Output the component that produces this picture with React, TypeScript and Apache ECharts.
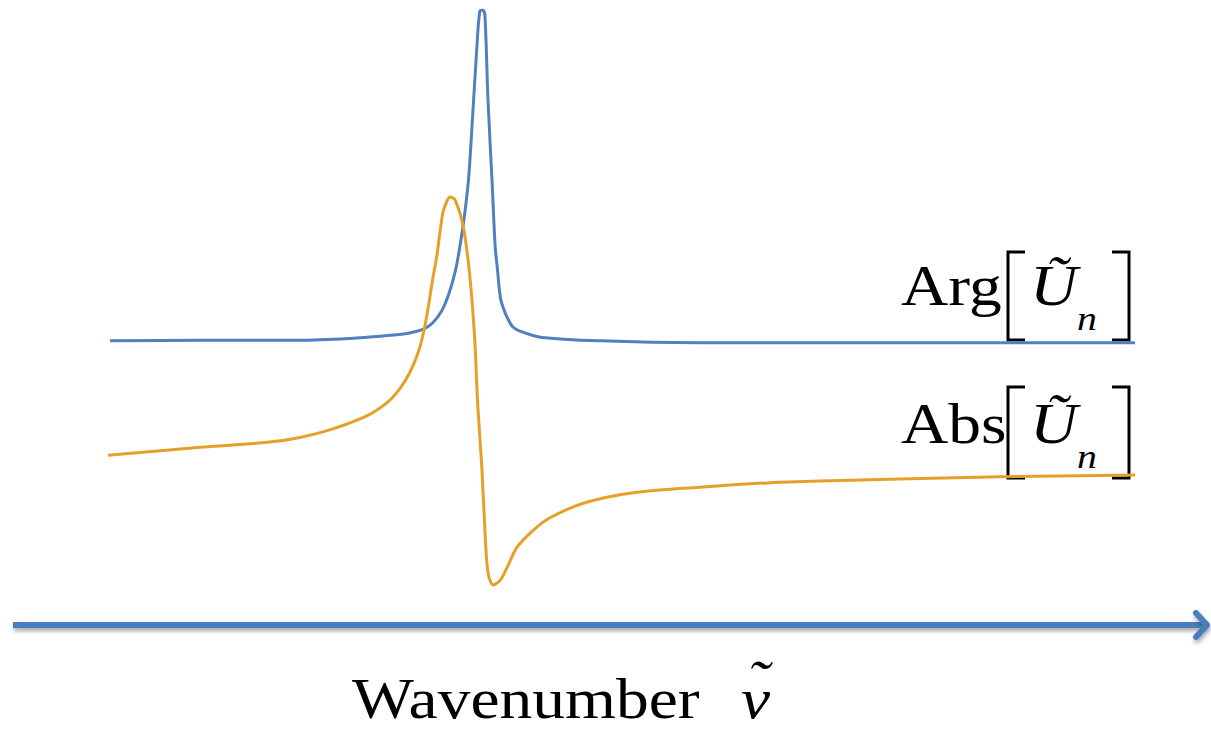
import React, { useEffect, useRef } from "react";
import * as echarts from "echarts";

// Arg[U_n] (blue) — x: wavenumber (arbitrary units 0..100), y: signal (arbitrary units)
const argX = [0.2, 9.0, 18.7, 23.6, 26.8, 29.1, 30.7, 31.6, 32.5, 33.1, 33.6, 34.0, 34.6, 35.1, 35.5, 35.9, 36.2, 36.5, 36.7, 37.0, 37.4, 37.7, 37.9, 38.2, 38.5, 38.9, 39.4, 40.1, 42.1, 47.9, 57.6, 70.6, 100];
const argY = [46.2, 46.3, 46.3, 46.6, 47.0, 47.4, 48.1, 49.1, 51.1, 53.4, 56.1, 59.0, 65.2, 72.4, 82.6, 93.5, 99.8, 100, 99.2, 85.4, 72.0, 61.5, 58.2, 53.3, 51.5, 49.9, 48.5, 47.8, 46.8, 46.2, 45.9, 45.9, 45.9];

// Abs[U_n] (orange)
const absX = [0, 9.0, 15.5, 18.7, 21.9, 25.2, 27.2, 28.4, 29.4, 30.2, 30.7, 31.2, 31.6, 32.0, 32.6, 33.0, 33.3, 33.8, 34.6, 35.2, 35.7, 36.0, 36.4, 36.7, 37.0, 37.5, 38.2, 38.9, 39.8, 41.4, 43.0, 46.3, 51.1, 57.6, 64.2, 69.3, 86.9, 100];
const absY = [27.6, 28.9, 29.7, 30.5, 31.9, 34.0, 36.2, 38.4, 41.1, 44.3, 47.4, 51.8, 56.1, 59.8, 67.0, 68.9, 69.6, 69.1, 64.7, 57.2, 46.7, 35.8, 25.7, 15.4, 8.5, 6.5, 7.3, 9.5, 12.6, 15.4, 17.4, 19.8, 21.5, 22.4, 23.1, 23.4, 24.1, 24.4];

const seriesNames = ["Arg", "Abs"];
const axisTitle = "Wavenumber";

const BLUE = "#5080BE";
const ORANGE = "#E6A028";
const AXIS_BLUE = "#4A7EBB";
const SERIF = "'Liberation Serif', 'Times New Roman', serif";
const SX = 1.17;
const SHADOW = { shadowBlur: 4, shadowColor: "rgba(0,0,0,0.35)", shadowOffsetY: 3, shadowOffsetX: 1 };

function pairs(xs: number[], ys: number[]) {
  return xs.map((x, i) => [x, ys[i]]);
}

function bracket(x: number, y1: number, y2: number, dir: number) {
  return {
    type: "polyline",
    shape: { points: [[x + dir * 17, y1], [x, y1], [x, y2], [x + dir * 17, y2]] },
    style: { stroke: "#000", lineWidth: 3, fill: "none", lineJoin: "miter" },
    silent: true,
  };
}

function label(name: string, baseY: number, topB: number, botB: number) {
  const F = 56;
  const mid = baseY - 19;
  return [
    {
      type: "text",
      x: 901,
      y: mid,
      scaleX: SX,
      style: { text: name, font: `${F}px ${SERIF}`, fill: "#000", textAlign: "left", textVerticalAlign: "middle" },
    },
    {
      type: "text",
      x: 1030,
      y: mid,
      scaleX: SX,
      style: { text: "Ũ", font: `italic ${F}px ${SERIF}`, fill: "#000", textAlign: "left", textVerticalAlign: "middle" },
    },
    {
      type: "text",
      x: 1077,
      y: baseY + 25 - 11.5,
      scaleX: SX,
      style: { text: "n", font: `italic 34px ${SERIF}`, fill: "#000", textAlign: "left", textVerticalAlign: "middle" },
    },
    bracket(1008, topB, botB, 1),
    bracket(1129, topB, botB, -1),
  ];
}

export default function App() {
  const ref = useRef<HTMLDivElement>(null);
  useEffect(() => {
    if (!ref.current) return;
    const chart = echarts.init(ref.current, undefined, { renderer: "svg" });
    chart.setOption({
      animation: false,
      backgroundColor: "#ffffff",
      grid: { left: 108, right: 76, top: 10, bottom: 104 },
      xAxis: { type: "value", min: 0, max: 100, show: false },
      yAxis: { type: "value", min: 0, max: 100, show: false },
      series: [
        {
          name: seriesNames[0],
          type: "line",
          data: pairs(argX, argY),
          showSymbol: false,
          smooth: 0.3,
          lineStyle: { color: BLUE, width: 3 },
          z: 3,
        },
        {
          name: seriesNames[1],
          type: "line",
          data: pairs(absX, absY),
          showSymbol: false,
          smooth: 0.3,
          lineStyle: { color: ORANGE, width: 3 },
          z: 4,
        },
      ],
      graphic: [
        {
          type: "rect",
          shape: { x: 13, y: 622, width: 1191, height: 6 },
          style: { fill: AXIS_BLUE, ...SHADOW },
        },
        {
          type: "polyline",
          shape: { points: [[1196, 613], [1207, 625], [1196, 637]] },
          style: { stroke: AXIS_BLUE, lineWidth: 6, fill: "none", lineCap: "round", lineJoin: "round", ...SHADOW },
        },
        ...label("Arg", 305, 252, 340),
        ...label("Abs", 443, 387, 478),
        {
          type: "text",
          x: 352,
          y: 699,
          scaleX: SX,
          style: { text: axisTitle, font: `56px ${SERIF}`, fill: "#000", textAlign: "left", textVerticalAlign: "middle" },
        },
        {
          type: "text",
          x: 741,
          y: 699,
          scaleX: SX,
          style: { text: "ν", font: `italic 56px ${SERIF}`, fill: "#000", textAlign: "left", textVerticalAlign: "middle" },
        },
        {
          type: "text",
          x: 747,
          y: 681,
          scaleX: SX,
          style: { text: "˜", font: `italic 56px ${SERIF}`, fill: "#000", textAlign: "left", textVerticalAlign: "middle" },
        },
      ],
    });
    return () => chart.dispose();
  }, []);
  return <div ref={ref} style={{ position: "fixed", left: 0, top: 0, width: 1211, height: 729 }} />;
}
